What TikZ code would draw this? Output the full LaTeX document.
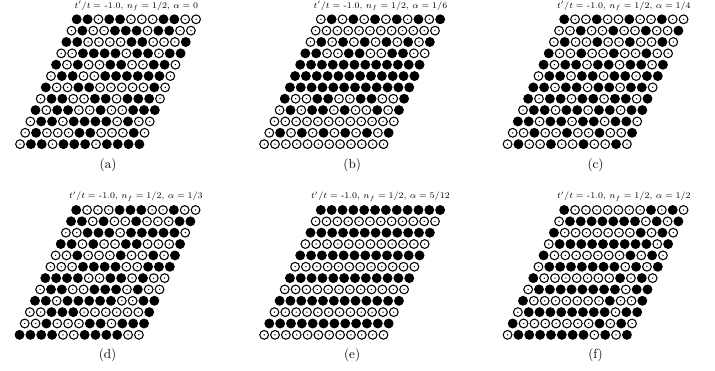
\documentclass[tikz,border=0pt]{standalone}
\usepackage{amsmath,amssymb}
\usepackage{tikz}
\usetikzlibrary{positioning}
\newcommand{\dx}{10.85}
\newcommand{\sh}{5.15}
\newcommand{\dy}{11.35}
\tikzset{
  site/.style={circle, draw=black, line width=0.85pt, minimum size=7pt, inner sep=0pt},
  occ/.style={site, fill=black},
  emp/.style={site, fill=white, path picture={\fill[black] (path picture bounding box.center) circle (0.6pt);}},
  paneltitle/.style={font=\fontsize{7}{8}\selectfont, inner sep=0pt},
  panelcap/.style={font=\fontsize{10.5}{12}\selectfont, inner sep=0pt}
}
\newcommand{\spinpanel}[5]{%
  \foreach \row [count=\r] in #5 {
    \foreach \v [count=\c] in \row {
      \ifnum\v=1 \def\sitestyle{occ}\else\def\sitestyle{emp}\fi
      \node[\sitestyle] (#1-\r-\c) at ({#2+(\c-1)*\dx-(\r-1)*\sh}, {#3+(\r-1)*\dy}) {};
    }
  }
  \node[paneltitle] (#1-title) at ({#2+5.5*\dx}, {#3-13.4}) {$t'/t =$ -1.0, $n_f = 1/2$, $\alpha = #4$};
  \node[panelcap] (#1-cap) at ({#2+5.5*\dx-5.5*\sh}, {#3+145.6}) {(#1)};
}
\def\latA{{1,1,0,1,1,0,0,0,1,1,0,0},{0,1,0,0,1,1,1,0,1,1,0,0},{1,1,0,0,0,0,1,1,0,0,0,1},{0,0,1,1,1,1,0,1,1,0,1,1},
  {1,0,1,0,0,1,1,0,0,1,1,0},{0,1,1,0,0,1,1,1,1,1,1,0},{1,0,0,1,1,0,0,0,0,0,1,0},{0,1,1,0,0,1,1,0,1,1,1,0},
  {1,0,1,1,0,0,1,0,0,1,1,1},{0,1,1,0,1,1,1,1,0,1,0,0},{0,1,0,0,0,1,1,0,0,0,1,0},{0,1,1,0,1,1,1,0,1,1,1,1}}
\def\latB{{0,1,0,1,0,1,0,1,0,1,0,1},{0,0,0,0,0,0,0,0,0,0,0,0},{0,1,0,1,0,1,0,1,0,1,0,1},{1,1,0,0,1,1,0,0,1,1,0,0},
  {1,1,1,1,1,1,1,1,1,1,1,1},{1,1,1,1,1,1,1,1,1,1,1,1},{1,1,1,1,1,1,1,1,1,1,1,1},{1,0,0,1,1,0,0,1,1,0,0,1},
  {0,1,0,1,1,0,1,0,0,1,0,1},{0,0,0,0,0,0,0,0,0,0,0,0},{0,1,0,1,0,1,0,1,0,1,0,1},{0,0,0,0,0,0,0,0,0,0,0,0}}
\def\latC{{1,0,0,1,0,0,1,0,0,1,0,0},{0,0,1,0,0,1,0,0,1,0,0,1},{0,1,0,0,1,0,0,1,0,0,1,0},{1,0,0,1,0,0,1,0,0,1,0,0},
  {1,0,1,1,0,1,1,0,1,1,0,1},{0,1,1,0,1,1,0,1,1,0,1,1},{1,1,0,1,1,0,1,1,0,1,1,0},{1,0,1,1,0,1,1,0,1,1,0,1},
  {0,1,1,0,1,1,0,1,1,0,1,1},{1,1,0,1,1,0,1,1,0,1,1,0},{0,0,1,0,0,1,0,0,1,0,0,1},{0,1,0,0,1,0,0,1,0,0,1,0}}
\def\latD{{1,0,0,0,1,1,1,0,0,1,0,0},{1,1,0,1,0,0,1,0,0,0,1,1},{0,0,1,1,1,0,1,1,1,1,1,0},{1,1,0,1,0,0,1,1,0,0,0,1},
  {0,0,1,0,0,0,1,0,0,1,0,1},{0,0,0,1,1,1,1,0,0,1,1,1},{1,1,1,1,0,0,1,1,0,1,0,0},{0,1,1,0,0,1,1,1,0,1,0,0},
  {1,1,0,1,1,1,1,1,0,0,1,1},{0,0,1,1,1,0,0,0,0,0,0,1},{0,0,1,0,0,0,1,1,0,1,1,1},{1,1,1,1,0,0,1,1,1,1,0,0}}
\def\latE{{1,1,1,1,1,1,1,1,1,1,1,1},{0,0,0,0,0,0,0,0,0,0,0,0},{1,1,1,1,1,1,1,1,1,1,1,1},{0,0,0,0,0,0,0,0,0,0,0,0},
  {1,1,1,1,1,1,1,1,1,1,1,1},{0,0,0,0,0,0,0,0,0,0,0,0},{1,1,1,1,1,1,1,1,1,1,1,1},{0,0,0,0,0,0,0,0,0,0,0,0},
  {1,1,1,1,1,1,1,1,1,1,1,1},{0,0,0,0,0,0,0,0,0,0,0,0},{1,1,1,1,1,1,1,1,1,1,1,1},{0,0,0,0,0,0,0,0,0,0,0,0}}
\def\latF{{1,0,0,0,0,0,0,0,1,0,1,0},{0,1,1,1,1,1,1,1,0,1,0,1},{1,0,0,0,0,0,0,0,1,0,1,0},{0,1,1,1,1,1,1,1,1,1,0,1},
  {1,0,0,0,0,0,0,0,1,0,1,0},{0,1,1,1,1,1,1,1,0,1,0,1},{1,0,0,0,0,0,0,0,1,0,1,0},{0,1,1,1,1,1,1,1,1,0,1,1},
  {1,0,0,0,0,0,0,0,1,0,0,1},{0,1,1,1,1,1,1,1,1,0,1,1},{1,0,0,0,0,0,0,0,1,0,1,0},{0,1,1,1,1,1,1,1,0,1,0,1}}
\begin{document}
\begin{tikzpicture}[x=0.8pt, y=-0.8pt]
  \useasboundingbox (0,0) rectangle (715,371);
  \spinpanel{a}{76.7}{19.3}{0}{\latA}
  \spinpanel{b}{320.8}{19.3}{1/6}{\latB}
  \spinpanel{c}{564.2}{19.3}{1/4}{\latC}
  \spinpanel{d}{76.2}{210}{1/3}{\latD}
  \spinpanel{e}{320.8}{210}{5/12}{\latE}
  \spinpanel{f}{564.2}{210}{1/2}{\latF}
\end{tikzpicture}
\end{document}
